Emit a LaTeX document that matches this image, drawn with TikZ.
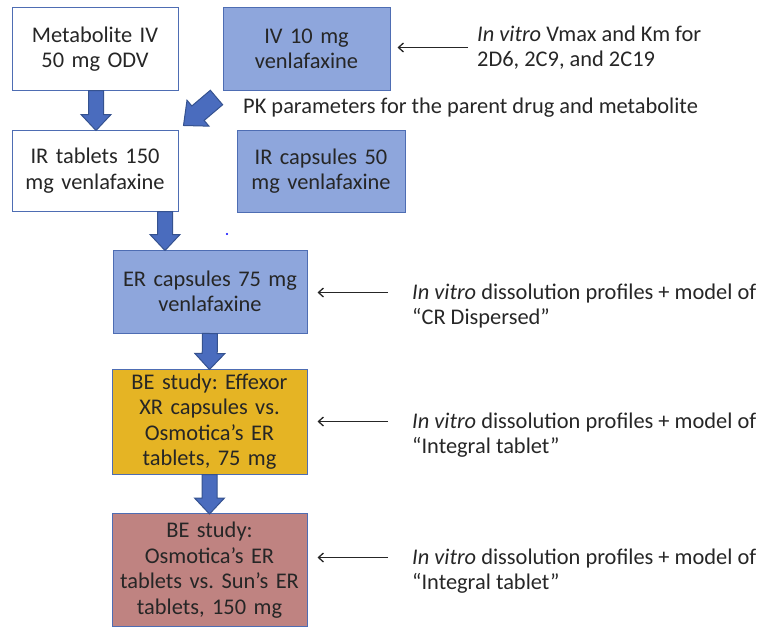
\documentclass[tikz,border=0pt]{standalone}
\usepackage{fontspec}
\setmainfont{Carlito}
\usetikzlibrary{calc,arrows.meta}
\definecolor{boxblue}{HTML}{8EA6DC}
\definecolor{edgeblue}{HTML}{4E6DB3}
\definecolor{arrblue}{HTML}{4A6CBE}
\definecolor{arredge}{HTML}{35528F}
\definecolor{beyellow}{HTML}{E5B424}
\definecolor{bepink}{HTML}{BF8381}
\definecolor{txt}{HTML}{262626}
% #1 from, #2 to, #3 shaft half width, #4 head half width, #5 head length
\newcommand\blkarrow[5]{%
  \filldraw[fill=arrblue,draw=arredge,line width=1pt,line join=miter]
    let \p1=#1, \p2=#2, \n1={atan2(\y2-\y1,\x2-\x1)}, \n2={veclen(\x2-\x1,\y2-\y1)} in
    [shift={(\p1)}, rotate=\n1]
    (0pt,-#3) -- (\n2-#5,-#3) -- (\n2-#5,-#4) -- (\n2,0pt)
    -- (\n2-#5,#4) -- (\n2-#5,#3) -- (0pt,#3) -- cycle;}
\frenchspacing
\begin{document}
\begin{tikzpicture}[x=1pt,y=-1pt,
  font=\fontsize{22.4}{25.5}\selectfont, text=txt,
  box/.style={draw=edgeblue,line width=1pt,inner sep=0pt,align=center,text width=#1},
  box/.default=164pt,
  lbl/.style={anchor=west,align=left,inner sep=0pt},
  thinarr/.style={draw=txt,line width=1.3pt,-{Straight Barb[length=5pt,width=9pt]}}]
\useasboundingbox (0,0) rectangle (759,626);
% boxes
\node[box,fill=white,minimum width=166pt,minimum height=82pt] (meta) at (95,49) {Metabolite IV\\50 mg ODV};
\node[box,fill=boxblue,minimum width=167pt,minimum height=82pt] (iv) at (306.5,49) {IV 10 mg\\venlafaxine};
\node[box,fill=white,minimum width=166pt,minimum height=81pt] (irt) at (95,170.5) {IR tablets 150\\mg venlafaxine};
\node[box,fill=boxblue,minimum width=168pt,minimum height=82pt] (irc) at (321,171) {IR capsules 50\\mg venlafaxine};
\node[box=192pt,fill=boxblue,minimum width=194pt,minimum height=83pt] (er) at (210,291.5) {ER capsules 75 mg\\venlafaxine};
\node[box=192pt,fill=beyellow,minimum width=195pt,minimum height=105pt] (be1) at (209.5,421.5) {BE study: Effexor\\XR capsules vs.\\Osmotica’s ER\\tablets, 75 mg};
\node[box=192pt,fill=bepink,minimum width=195pt,minimum height=113pt] (be2) at (209.5,570) {BE study:\\Osmotica’s ER\\tablets vs. Sun’s ER\\tablets, 150 mg};
% block arrows
\blkarrow{([xshift=1pt]meta.south)}{([xshift=1pt,yshift=-1pt]irt.north)}{7.5pt}{15pt}{16pt}
\coordinate (a2s) at ([xshift=70pt]irt.south);
\blkarrow{(a2s)}{([yshift=-1pt]a2s |- er.north)}{7.5pt}{15pt}{16pt}
\blkarrow{(er.south)}{([yshift=-1pt]be1.north)}{7.5pt}{15pt}{16pt}
\blkarrow{(be1.south)}{([yshift=-1pt]be2.north)}{7.5pt}{15pt}{16pt}
\coordinate (dstart) at ($(iv.south west)+(-6,7)$);
\coordinate (dend) at ($(irt.north east)+(5,-4)$);
\blkarrow{(dstart)}{(dend)}{9.5pt}{17pt}{19pt}
% labels
\node[lbl] (t1) at (477,47.5) {\textit{In vitro} Vmax and Km for\\2D6, 2C9, and 2C19};
\node[lbl] (pk) at (243,108) {PK parameters for the parent drug and metabolite};
\node[lbl] (t2) at (412,306) {\textit{In vitro} dissolution profiles + model of\\“CR Dispersed”};
\node[lbl] (t3) at (412,435) {\textit{In vitro} dissolution profiles + model of\\“Integral tablet”};
\node[lbl] (t4) at (412,571) {\textit{In vitro} dissolution profiles + model of\\“Integral tablet”};
% thin arrows
\draw[thinarr] ([xshift=-9pt]t1.west) -- ([xshift=7pt]iv.east |- t1.west);
\coordinate (s2) at ($(t2.west)+(-24,-13.5)$);
\coordinate (s3) at ($(t3.west)+(-24,-13.5)$);
\coordinate (s4) at ($(t4.west)+(-24,-13.5)$);
\draw[thinarr] (s2) -- ([xshift=10pt]er.east |- s2);
\draw[thinarr] (s3) -- ([xshift=10pt]be1.east |- s3);
\draw[thinarr] (s4) -- ([xshift=10pt]be2.east |- s4);
% stray dot
\fill[blue] (227,234) circle (1.2pt);
\end{tikzpicture}
\end{document}
